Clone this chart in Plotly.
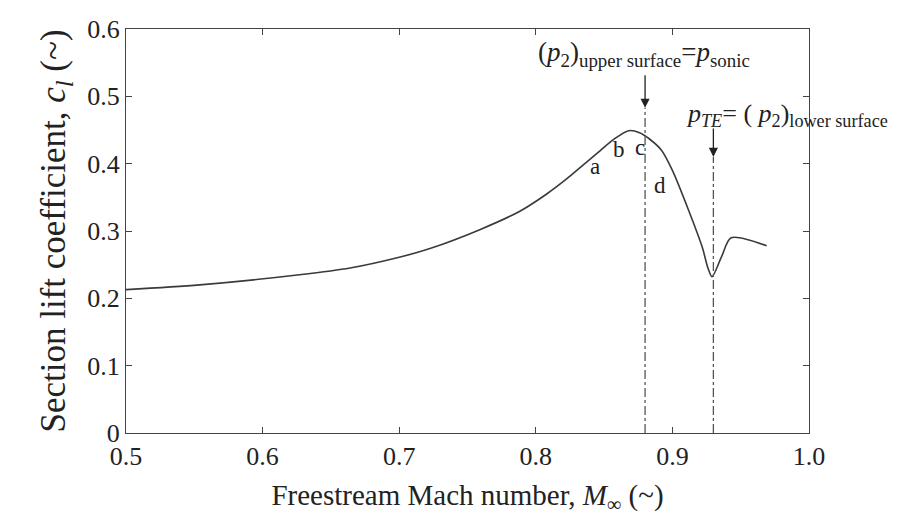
import plotly.graph_objects as go

mach = [0.5, 0.554, 0.627, 0.664, 0.70, 0.7225, 0.759, 0.788, 0.808, 0.823, 0.837, 0.847,
        0.857, 0.868, 0.876, 0.883, 0.892, 0.90, 0.912, 0.922, 0.926, 0.929, 0.936, 0.943, 0.969]
cl = [0.213, 0.220, 0.235, 0.245, 0.261, 0.274, 0.302, 0.329, 0.355, 0.378, 0.402, 0.419,
      0.436, 0.449, 0.446, 0.437, 0.420, 0.390, 0.330, 0.275, 0.245, 0.232, 0.262, 0.290, 0.278]

m_sonic = 0.88
m_te = 0.93
point_labels = ["a", "b", "c", "d"]
point_x = [0.843, 0.861, 0.876, 0.891]
point_y = [0.396, 0.421, 0.424, 0.367]

serif = "Liberation Serif, Times New Roman, serif"

fig = go.Figure()
fig.add_trace(go.Scatter(x=mach, y=cl, mode="lines",
                         line=dict(color="#3a3a3a", width=1.6, shape="spline", smoothing=0.8),
                         showlegend=False, hoverinfo="skip"))

for xv, ytop in [(m_sonic, 0.483), (m_te, 0.41)]:
    fig.add_shape(type="line", x0=xv, x1=xv, y0=0, y1=ytop, xref="x", yref="y",
                  line=dict(color="#555555", width=1.3, dash="dashdot"))

fig.add_annotation(x=m_sonic, y=0.483, ax=0, ay=-34, xref="x", yref="y",
                   showarrow=True, arrowhead=2, arrowsize=1.4, arrowwidth=1.3,
                   arrowcolor="#222222", text="")
fig.add_annotation(x=m_te, y=0.41, ax=0, ay=-30, xref="x", yref="y",
                   showarrow=True, arrowhead=2, arrowsize=1.4, arrowwidth=1.3,
                   arrowcolor="#222222", text="")

fig.add_annotation(x=0.8795, y=0.563, xref="x", yref="y", showarrow=False,
                   text="(<i>p</i><sub>2</sub>)<sub>upper surface</sub>=<i>p</i><sub>sonic</sub>",
                   font=dict(family=serif, size=27, color="#222222"))
fig.add_annotation(x=1.119, y=0.472, xref="paper", yref="y", showarrow=False, xanchor="right",
                   text="<i>p<sub>TE</sub></i>= ( <i>p</i><sub>2</sub>)<sub>lower surface</sub>",
                   font=dict(family=serif, size=26, color="#222222"))

for t, xv, yv in zip(point_labels, point_x, point_y):
    fig.add_annotation(x=xv, y=yv, xref="x", yref="y", showarrow=False, text=t,
                       font=dict(family=serif, size=23, color="#222222"))

axis_common = dict(showgrid=False, zeroline=False, showline=True, linecolor="#444444",
                   linewidth=1.3, mirror="ticks", ticks="inside", ticklen=6,
                   tickcolor="#444444", automargin=False,
                   tickfont=dict(family=serif, size=26, color="#222222"))

fig.update_xaxes(range=[0.5, 1.0], tickvals=[0.5, 0.6, 0.7, 0.8, 0.9, 1.0],
                 ticktext=["0.5", "0.6", "0.7", "0.8", "0.9", "1.0"],
                 title=dict(text="Freestream Mach number, <i>M</i><sub>∞</sub> (~)",
                            font=dict(family=serif, size=29, color="#222222"), standoff=14),
                 **axis_common)
fig.update_yaxes(range=[0, 0.6], tickvals=[0, 0.1, 0.2, 0.3, 0.4, 0.5, 0.6],
                 ticktext=["0", "0.1", "0.2", "0.3", "0.4", "0.5", "0.6"],
                 title=dict(text="Section lift coefficient, <i>c<sub>l</sub></i> (~)",
                            font=dict(family=serif, size=35, color="#222222"), standoff=10),
                 **axis_common)

fig.update_layout(width=890, height=514, margin=dict(l=118, r=89, t=21, b=89),
                  plot_bgcolor="white", paper_bgcolor="white")

fig.write_html("out.html")
